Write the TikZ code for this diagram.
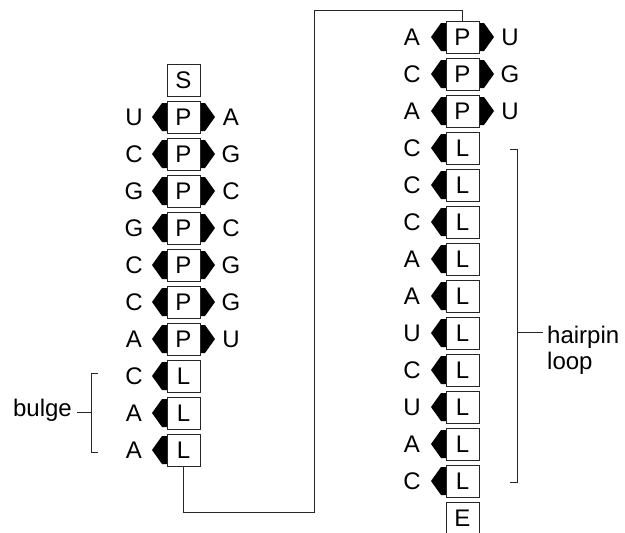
\documentclass[tikz,border=0pt]{standalone}
\usepackage{fontspec}
\setmainfont{Liberation Sans}
\begin{document}
\begin{tikzpicture}[x=1pt,y=-1pt,
  unit/.style={draw=black!85, line width=1pt, fill=white, minimum width=33pt,
    minimum height=32pt, inner sep=0pt, font=\fontsize{24}{28}\selectfont},
  base/.style={inner sep=0pt, font=\fontsize{24}{28}\selectfont},
  link/.style={draw=black!85, line width=1pt},
  wedge/.style={fill=black}]
\useasboundingbox (0,0) rectangle (625,533);

% ---------- left strand ----------
\node[unit] (ls) at (183.5,80) {S};
\foreach \l/\r [count=\i] in {U/A,C/G,G/C,G/C,C/G,C/G,A/U} {
  \pgfmathsetmacro\yy{80+37*\i}
  \fill[wedge] (183.5-16.5,\yy) ++(-15,0) -- ++(10,-14) -- ++(5,0) -- ++(0,28) -- ++(-5,0) -- cycle;
  \fill[wedge] (183.5+16.5,\yy) ++(15,0) -- ++(-10,-14) -- ++(-5,0) -- ++(0,28) -- ++(5,0) -- cycle;
  \node[unit] (lp\i) at (183.5,\yy) {P};
  \node[base] (lpa\i) at (134,\yy) {\l};
  \node[base] (lpb\i) at (231,\yy) {\r};
}
\foreach \l [count=\i] in {C,A,A} {
  \pgfmathsetmacro\yy{80+37*(7+\i)}
  \fill[wedge] (183.5-16.5,\yy) ++(-15,0) -- ++(10,-14) -- ++(5,0) -- ++(0,28) -- ++(-5,0) -- cycle;
  \node[unit] (lq\i) at (183.5,\yy) {L};
  \node[base] (lqa\i) at (134,\yy) {\l};
}

% ---------- right strand ----------
\foreach \l/\r [count=\i] in {A/U,C/G,A/U} {
  \pgfmathsetmacro\yy{37*\i}
  \fill[wedge] (462.5-16.5,\yy) ++(-15,0) -- ++(10,-14) -- ++(5,0) -- ++(0,28) -- ++(-5,0) -- cycle;
  \fill[wedge] (462.5+16.5,\yy) ++(15,0) -- ++(-10,-14) -- ++(-5,0) -- ++(0,28) -- ++(5,0) -- cycle;
  \node[unit] (rp\i) at (462.5,\yy) {P};
  \node[base] (rpa\i) at (412,\yy) {\l};
  \node[base] (rpb\i) at (510,\yy) {\r};
}
\foreach \l [count=\i] in {C,C,C,A,A,U,C,U,A,C} {
  \pgfmathsetmacro\yy{37*(3+\i)}
  \fill[wedge] (462.5-16.5,\yy) ++(-15,0) -- ++(10,-14) -- ++(5,0) -- ++(0,28) -- ++(-5,0) -- cycle;
  \node[unit] (rq\i) at (462.5,\yy) {L};
  \node[base] (rqa\i) at (412,\yy) {\l};
}
\node[unit] (re) at (462.5,518) {E};

% ---------- backbone link between the strands ----------
\coordinate (bendA) at (314,512);
\coordinate (bendB) at (314,10);
\draw[link] (lq3.south) |- (bendA) -- (bendB) -| (rp1.north);

% ---------- bulge bracket ----------
\coordinate (bt) at (91,373);
\coordinate (bb) at (91,452);
\coordinate (bm) at (91,412);
\draw[link] (98,373) -- (bt) -- (bb) -- (98,452);
\node[base, anchor=east] (bulge) at (72,410) {bulge};
\draw[link] (bulge.east) ++(5,2) -- (bm);

% ---------- hairpin loop bracket ----------
\coordinate (ht) at (517,149);
\coordinate (hb) at (517,482);
\coordinate (hm) at (517,332);
\draw[link] (510,149) -- (ht) -- (hb) -- (510,482);
\node[base, anchor=base west] (hp) at (547,343) {hairpin};
\node[base, anchor=base west] (lp) at (547,369) {loop};
\draw[link] (hm) -- (543,332);
\end{tikzpicture}
\end{document}
